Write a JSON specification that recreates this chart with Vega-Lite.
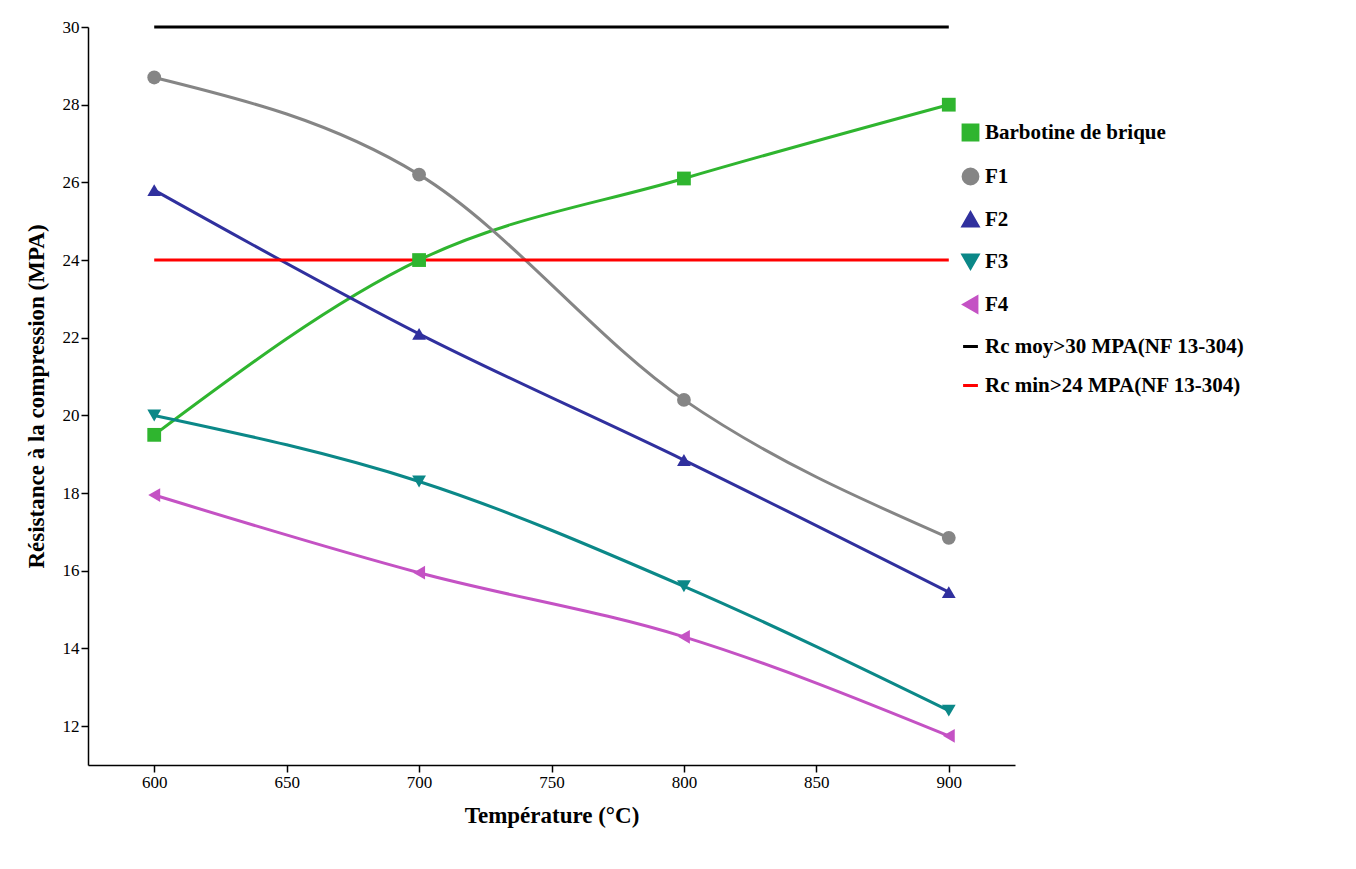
{
"$schema":"https://vega.github.io/schema/vega-lite/v6.json",
"autosize":"none","width":927,"height":738,
"padding":{"left":88,"top":27,"right":341,"bottom":104},
"config":{"font":"Liberation Serif","view":{"stroke":null},
"axis":{"labelFont":"Liberation Serif","labelFontSize":17,"titleFont":"Liberation Serif","titleFontSize":23,"titleFontWeight":"bold","grid":false,"domainColor":"#000","tickColor":"#000","labelColor":"#000","titleColor":"#000","domainWidth":1.5,"tickWidth":1.5,"tickSize":7},
"legend":{"orient":"none","legendX":872,"legendY":95,"title":null,"labelFont":"Liberation Serif","labelFontSize":21,"labelFontWeight":"bold","labelColor":"#000","symbolSize":220,"symbolStrokeWidth":3,"rowPadding":17,"labelLimit":400}},
"data":{"values":[
{"s":"Barbotine de brique","t":600,"v":19.5},{"s":"Barbotine de brique","t":700,"v":24},{"s":"Barbotine de brique","t":800,"v":26.1},{"s":"Barbotine de brique","t":900,"v":28},
{"s":"F1","t":600,"v":28.7},{"s":"F1","t":700,"v":26.2},{"s":"F1","t":800,"v":20.4},{"s":"F1","t":900,"v":16.85},
{"s":"F2","t":600,"v":25.8},{"s":"F2","t":700,"v":22.1},{"s":"F2","t":800,"v":18.85},{"s":"F2","t":900,"v":15.45},
{"s":"F3","t":600,"v":20},{"s":"F3","t":700,"v":18.3},{"s":"F3","t":800,"v":15.6},{"s":"F3","t":900,"v":12.4},
{"s":"F4","t":600,"v":17.95},{"s":"F4","t":700,"v":15.95},{"s":"F4","t":800,"v":14.3},{"s":"F4","t":900,"v":11.75},
{"s":"Rc moy>30 MPA(NF 13-304)","t":600,"v":30},{"s":"Rc moy>30 MPA(NF 13-304)","t":900,"v":30},
{"s":"Rc min>24 MPA(NF 13-304)","t":600,"v":24},{"s":"Rc min>24 MPA(NF 13-304)","t":900,"v":24}
]},
"encoding":{
"x":{"field":"t","type":"quantitative","scale":{"domain":[575,925],"nice":false,"zero":false},"axis":{"values":[600,650,700,750,800,850,900],"title":"Température (°C)","titlePadding":14}},
"y":{"field":"v","type":"quantitative","scale":{"domain":[11,30],"nice":false,"zero":false},"axis":{"values":[12,14,16,18,20,22,24,26,28,30],"title":"Résistance à la compression (MPA)","titlePadding":14}},
"color":{"field":"s","type":"nominal","scale":{"domain":["Barbotine de brique","F1","F2","F3","F4","Rc moy>30 MPA(NF 13-304)","Rc min>24 MPA(NF 13-304)"],"range":["#2fb52f","#858585","#30309e","#0b8888","#c452c4","#000000","#ff0000"]}}
},
"layer":[
{"mark":{"type":"line","interpolate":"monotone","strokeWidth":3}},
{"transform":[{"filter":"datum.s[0] != 'R'"}],
"mark":{"type":"point","filled":true,"size":190,"opacity":1},
"encoding":{"shape":{"field":"s","type":"nominal","scale":{"domain":["Barbotine de brique","F1","F2","F3","F4","Rc moy>30 MPA(NF 13-304)","Rc min>24 MPA(NF 13-304)"],"range":["square","circle","triangle-up","triangle-down","triangle-left","stroke","stroke"]}}}}
]
}
